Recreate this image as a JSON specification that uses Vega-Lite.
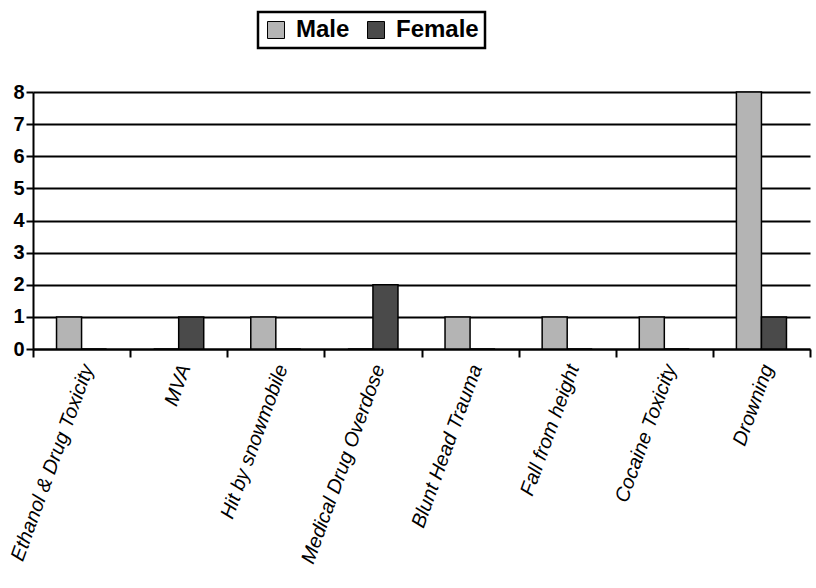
{
  "$schema": "https://vega.github.io/schema/vega-lite/v6.json",
  "autosize": "none",
  "width": 777,
  "height": 257,
  "padding": {"left": 33, "top": 92, "right": 6, "bottom": 239},
  "background": "white",
  "config": {"view": {"stroke": null}, "font": "Liberation Sans"},
  "data": {"values": [
    {"cause": "Ethanol & Drug Toxicity", "sex": "Male", "count": 1},
    {"cause": "Ethanol & Drug Toxicity", "sex": "Female", "count": 0},
    {"cause": "MVA", "sex": "Male", "count": 0},
    {"cause": "MVA", "sex": "Female", "count": 1},
    {"cause": "Hit by snowmobile", "sex": "Male", "count": 1},
    {"cause": "Hit by snowmobile", "sex": "Female", "count": 0},
    {"cause": "Medical Drug Overdose", "sex": "Male", "count": 0},
    {"cause": "Medical Drug Overdose", "sex": "Female", "count": 2},
    {"cause": "Blunt Head Trauma", "sex": "Male", "count": 1},
    {"cause": "Blunt Head Trauma", "sex": "Female", "count": 0},
    {"cause": "Fall from height", "sex": "Male", "count": 1},
    {"cause": "Fall from height", "sex": "Female", "count": 0},
    {"cause": "Cocaine Toxicity", "sex": "Male", "count": 1},
    {"cause": "Cocaine Toxicity", "sex": "Female", "count": 0},
    {"cause": "Drowning", "sex": "Male", "count": 8},
    {"cause": "Drowning", "sex": "Female", "count": 1}
  ]},
  "mark": {"type": "bar", "stroke": "black", "strokeWidth": 1.5},
  "encoding": {
    "x": {
      "field": "cause", "type": "nominal", "sort": null,
      "scale": {"paddingInner": 0, "paddingOuter": 0},
      "axis": {
        "title": null, "labelAngle": -70, "labelFontSize": 20, "labelFontStyle": "italic",
        "labelColor": "black", "labelAlign": "right", "labelBaseline": "middle",
        "labelPadding": 8, "labelOffset": 6, "tickBand": "extent", "tickColor": "black", "tickWidth": 2,
        "tickSize": 8, "domainColor": "black", "domainWidth": 2, "labelLimit": 400
      }
    },
    "xOffset": {
      "field": "sex", "type": "nominal", "sort": ["Male", "Female"],
      "scale": {"paddingInner": 0, "paddingOuter": 0.94, "align": 0.5}
    },
    "y": {
      "field": "count", "type": "quantitative",
      "scale": {"domain": [0, 8], "nice": false},
      "axis": {
        "title": null, "values": [0, 1, 2, 3, 4, 5, 6, 7, 8], "labelFontSize": 20,
        "labelFontWeight": "bold", "labelColor": "black", "gridColor": "black",
        "gridWidth": 2, "gridOpacity": 1, "domainColor": "black", "domainWidth": 2,
        "tickColor": "black", "tickWidth": 2, "tickSize": 7, "labelPadding": 2
      }
    },
    "color": {
      "field": "sex", "type": "nominal",
      "scale": {"domain": ["Male", "Female"], "range": ["#b4b4b4", "#4a4a4a"]},
      "legend": {
        "title": null, "orient": "none", "legendX": 225, "legendY": -80,
        "direction": "horizontal", "columns": 2, "symbolType": "square", "symbolSize": 289,
        "symbolStrokeColor": "black", "symbolStrokeWidth": 1, "labelOffset": 8,
        "labelFontSize": 24, "labelFontWeight": "bold", "labelColor": "black",
        "strokeColor": "black", "padding": 6, "columnPadding": 14,
        "fillColor": "white",
        "encode": {"legend": {"update": {"strokeWidth": {"value": 2.5}}}}
      }
    }
  }
}
